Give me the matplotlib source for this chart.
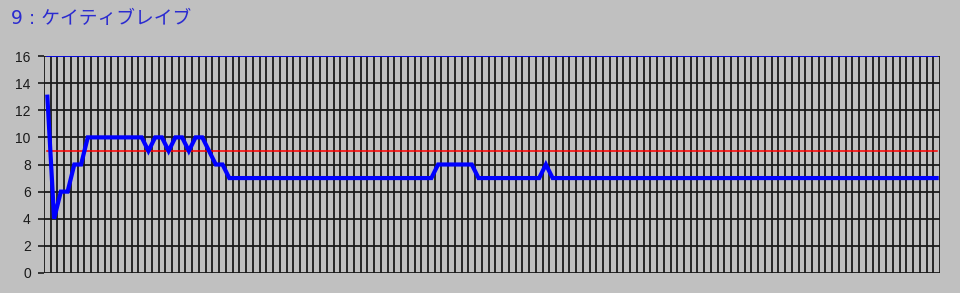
import numpy as np
import matplotlib
matplotlib.use("Agg")
import matplotlib.pyplot as plt

# DATA
title = "9 : ケイティブレイブ"
values = [13, 4, 6, 6, 8, 8,
          10, 10, 10, 10, 10, 10, 10, 10, 10,
          9, 10, 10, 9, 10, 10, 9, 10, 10, 9,
          8, 8,
          7, 7, 7, 7, 7, 7, 7, 7, 7, 7, 7, 7, 7, 7, 7, 7,
          7, 7, 7, 7, 7, 7, 7, 7, 7, 7, 7, 7, 7, 7, 7,
          8, 8, 8, 8, 8, 8,
          7, 7, 7, 7, 7, 7, 7, 7, 7, 7,
          8,
          7, 7, 7, 7, 7, 7, 7, 7, 7, 7, 7, 7, 7, 7, 7, 7, 7, 7, 7, 7,
          7, 7, 7, 7, 7, 7, 7, 7, 7, 7, 7, 7, 7, 7, 7, 7, 7, 7, 7, 7,
          7, 7, 7, 7, 7, 7, 7, 7, 7, 7, 7, 7, 7, 7, 7, 7, 7, 7]
ref_level = 9
top_level = 16
y_ticks = [0, 2, 4, 6, 8, 10, 12, 14, 16]

n = len(values)
x = np.arange(n)
bg = '#c0c0c0'

# PLOTTING
fig = plt.figure(figsize=(9.6, 2.93), dpi=100, facecolor=bg)
ax = fig.add_axes([44/960, 1 - 273/293, 896/960, 217/293], facecolor=bg)

# grid: one vertical line per category boundary, horizontal at each tick
for b in np.arange(n + 1) - 0.5:
    ax.axvline(b, color='#1a1a1a', lw=1.3, zorder=1)
for t in y_ticks:
    ax.axhline(t, color='#1a1a1a', lw=1.3, zorder=1)

ax.plot(x, [top_level] * n, color='#0000ff', lw=1.2, zorder=3)
ax.plot(x, [ref_level] * n, color='#ff0000', lw=1.1, zorder=3, snap=True)
ax.plot(x, values, color='#0000ff', lw=3.0, zorder=4, solid_joinstyle='miter')

ax.set_xlim(-0.5, n - 0.5)
ax.set_ylim(0, 16)
ax.set_yticks(y_ticks)
ax.set_xticks([])
ax.tick_params(axis='y', length=4, width=1.2, color='#1a1a1a', pad=5.5,
               labelsize=10, labelcolor='#1a1a1a')
for lbl in ax.get_yticklabels():
    lbl.set_fontfamily('Liberation Sans')
for s in ax.spines.values():
    s.set_visible(False)

fig.text(11/960, 1 - 24/293, title, color='#2b2bd0', fontsize=13.5,
         family=['DejaVu Sans', 'Noto Sans CJK JP'], va='baseline', ha='left')

fig.savefig('out.png', dpi=100, facecolor=bg)
